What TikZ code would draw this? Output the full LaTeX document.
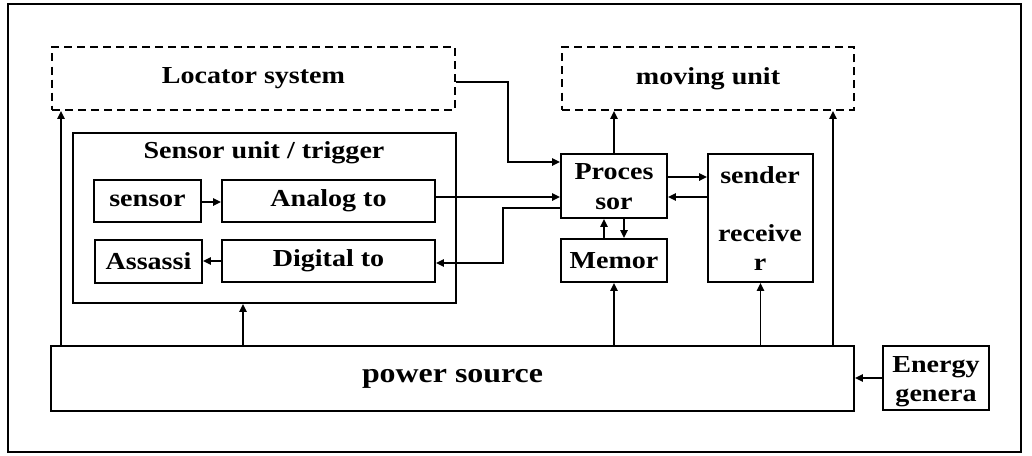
\documentclass[tikz,border=0pt]{standalone}
\usepackage{fontspec}
\setmainfont{Liberation Serif}[FakeStretch=1.15]
\usetikzlibrary{arrows.meta,fit,calc}
\begin{document}
\begin{tikzpicture}[x=0.75pt,y=-0.75pt,
  line width=1.4pt,
  box/.style={draw,inner sep=0pt},
  dbox/.style={draw,inner sep=0pt,dash pattern=on 6pt off 3.8pt},
  lbl/.style={font=\fontsize{18.3pt}{22pt}\selectfont\bfseries,inner sep=0pt},
  big/.style={font=\fontsize{20.8pt}{24pt}\selectfont\bfseries,inner sep=0pt},
  arr/.style={-{Triangle[length=6pt,width=5.5pt]}}]
\useasboundingbox (0,0) rectangle (1032,455);
\draw[line width=1.4pt] (8,4) rectangle (1021,452);
% boxes
\node[dbox,fit={(52,47)(455,110)}] (loc) {};
\node[dbox,fit={(562,47)(854,110)}] (mov) {};
\node[box,fit={(73,133)(456,303)}] (sen) {};
\node[box,fit={(94,180)(201,222)}] (sensor) {};
\node[box,fit={(222,180)(435,222)}] (ana) {};
\node[box,fit={(95,240)(202,283)}] (ass) {};
\node[box,fit={(222,240)(435,282)}] (dig) {};
\node[box,fit={(561,154)(667,218)}] (proc) {};
\node[box,fit={(708,154)(813,282)}] (snd) {};
\node[box,fit={(561,239)(667,282)}] (mem) {};
\node[box,fit={(51,346)(854,411)}] (pow) {};
\node[box,fit={(883,346)(989,410)}] (en) {};
% texts
\node[lbl] at (loc.center) {Locator system};
\node[lbl] at (mov.center) {moving unit};
\node[lbl] at (264,153) {Sensor unit / trigger};
\node[lbl] at (sensor.center) {sensor};
\node[lbl] at (ana.center) {Analog to};
\node[lbl] at (ass.center) {Assassi};
\node[lbl] at (dig.center) {Digital to};
\node[lbl] at (614,172) {Proces};
\node[lbl] at (614,204) {sor};
\node[lbl] at (mem.center) {Memor};
\node[lbl] at (760,175) {sender};
\node[lbl] at (760,233) {receive};
\node[lbl] at (760,265) {r};
\node[big] at (pow.center) {power source};
\node[lbl] at (936,367) {Energy};
\node[lbl] at (936,398) {genera};
% connectors
\coordinate (b1) at (508,82);
\draw[arr] (loc.east |- b1) -- (b1) |- ([yshift=12pt*0.75/0.75*0.75]proc.west |- 0,174);
\draw[arr] (ana.east |- 0,197) -- (proc.west |- 0,197);
\coordinate (b2) at (503,208);
\draw[arr] (proc.west |- b2) -- (b2) |- (dig.east |- 0,263);
\draw[arr] (sensor.east |- 0,202) -- (ana.west |- 0,202);
\draw[arr] (dig.west |- 0,261) -- (ass.east |- 0,261);
\draw[arr] (proc.east |- 0,177) -- (snd.west |- 0,177);
\draw[arr] (snd.west |- 0,197) -- (proc.east |- 0,197);
\draw[arr] (proc.north) -- (mov.south -| proc.north);
\draw[arr] (mem.north -| 604,0) -- (proc.south -| 604,0);
\draw[arr] (proc.south -| 624,0) -- (mem.north -| 624,0);
\draw[arr] (pow.north -| mem.south) -- (mem.south);
\draw[arr] (pow.north -| snd.south) -- (snd.south);
\draw[arr] (pow.north -| 833,0) -- (mov.south -| 833,0);
\draw[arr] (pow.north -| 61,0) -- (loc.south -| 61,0);
\draw[arr] (pow.north -| 243,0) -- (sen.south -| 243,0);
\draw[arr] (en.west |- 0,378) -- (pow.east |- 0,378);
\end{tikzpicture}
\end{document}
